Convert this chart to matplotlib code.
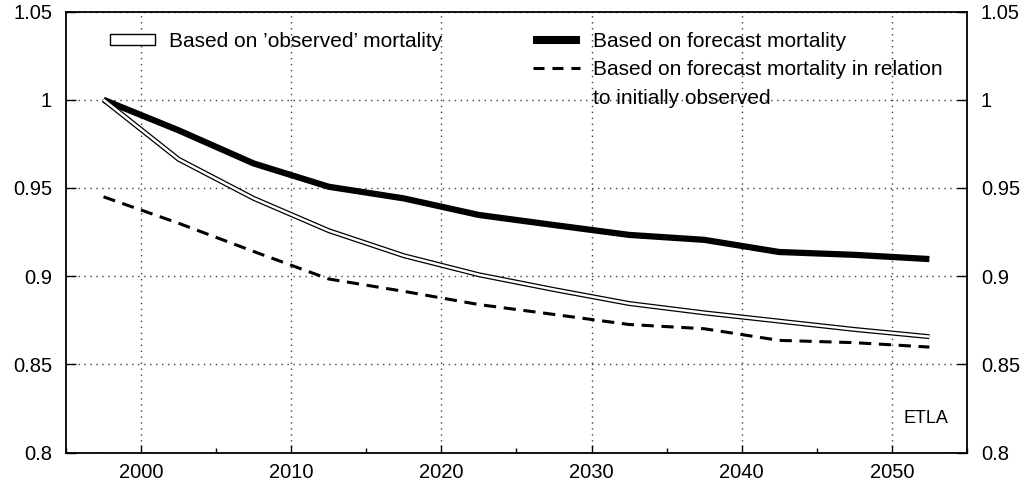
import matplotlib
matplotlib.use("Agg")
import matplotlib.pyplot as plt
from matplotlib.patches import Patch
from matplotlib.lines import Line2D
from matplotlib.ticker import MultipleLocator, FuncFormatter

plt.rcParams['font.family'] = ['Liberation Sans', 'DejaVu Sans']
plt.rcParams['font.size'] = 15

# Data (5-year periods, plotted at mid-points)
years = [1997.5, 2002.5, 2007.5, 2012.5, 2017.5, 2022.5,
         2027.5, 2032.5, 2037.5, 2042.5, 2047.5, 2052.5]
observed = [1.0, 0.9663, 0.9441, 0.9258, 0.9116, 0.9008,
            0.8924, 0.8845, 0.8792, 0.8745, 0.8698, 0.8657]
forecast = [1.0, 0.9827, 0.9639, 0.9507, 0.9441, 0.9347,
            0.9290, 0.9234, 0.9206, 0.9137, 0.9121, 0.9097]
relative = [0.9450, 0.9300, 0.9140, 0.8984, 0.8914, 0.8839,
            0.8783, 0.8726, 0.8702, 0.8636, 0.8623, 0.8598]

lab_obs = "Based on \u2019observed\u2019 mortality"
lab_fc = "Based on forecast mortality"
lab_rel = "Based on forecast mortality in relation"
lab_rel2 = "to initially observed"

fig = plt.figure(figsize=(10.23, 4.84), dpi=100)
ax = fig.add_axes([0.0645, 0.065, 0.8807, 0.911])

# Lines
ax.plot(years, observed, color='black', lw=3.6, solid_capstyle='butt', zorder=3)
ax.plot(years, observed, color='white', lw=1.8, solid_capstyle='butt', zorder=4)
ax.plot(years, forecast, color='black', lw=4.5, solid_capstyle='butt', zorder=3)
ax.plot(years, relative, color='black', lw=2.2, dashes=(4, 2.5), zorder=3)

# Axes
ax.set_xlim(1995, 2055)
ax.set_ylim(0.8, 1.05)
ax.xaxis.set_major_locator(MultipleLocator(10))
ax.xaxis.set_minor_locator(MultipleLocator(5))
ax.yaxis.set_major_locator(MultipleLocator(0.05))
ax.yaxis.set_major_formatter(FuncFormatter(lambda v, p: '%g' % round(v, 2)))

ax.tick_params(axis='both', labelsize=14.5)
ax.tick_params(axis='x', which='major', direction='in', length=6, width=1, pad=7.5)
ax.tick_params(axis='x', which='minor', direction='in', length=3.5, width=1)
ax.tick_params(axis='y', which='major', direction='in', length=7, width=1,
               left=True, right=True, labelleft=True, labelright=True, pad=10)

for s in ax.spines.values():
    s.set_linewidth(1.3)

ax.grid(True, which='major', color='0.25', linestyle=(0, (1, 3.3)), linewidth=1)
ax.set_axisbelow(True)

# Legends
leg1 = ax.legend(handles=[Patch(facecolor='white', edgecolor='black', linewidth=1)],
                 labels=[lab_obs], loc='upper left', bbox_to_anchor=(0.049, 0.954),
                 frameon=False, borderpad=0, borderaxespad=0, handlelength=2.16,
                 handleheight=0.42, handletextpad=0.68)
ax.add_artist(leg1)
h_fc = Line2D([], [], color='black', lw=5.8, solid_capstyle='butt')
h_rel = Line2D([], [], color='black', lw=2.2, dashes=(3.6, 2.6))
h_none = Line2D([], [], color='none')
ax.legend(handles=[h_fc, h_rel, h_none], labels=[lab_fc, lab_rel, lab_rel2],
          loc='upper left', bbox_to_anchor=(0.518, 0.954), frameon=False,
          borderpad=0, borderaxespad=0, handlelength=2.26, handletextpad=0.63,
          labelspacing=0.46)

ax.text(0.979, 0.078, "ETLA", transform=ax.transAxes, ha='right', va='center', fontsize=13)

fig.savefig("out.png", dpi=100)
